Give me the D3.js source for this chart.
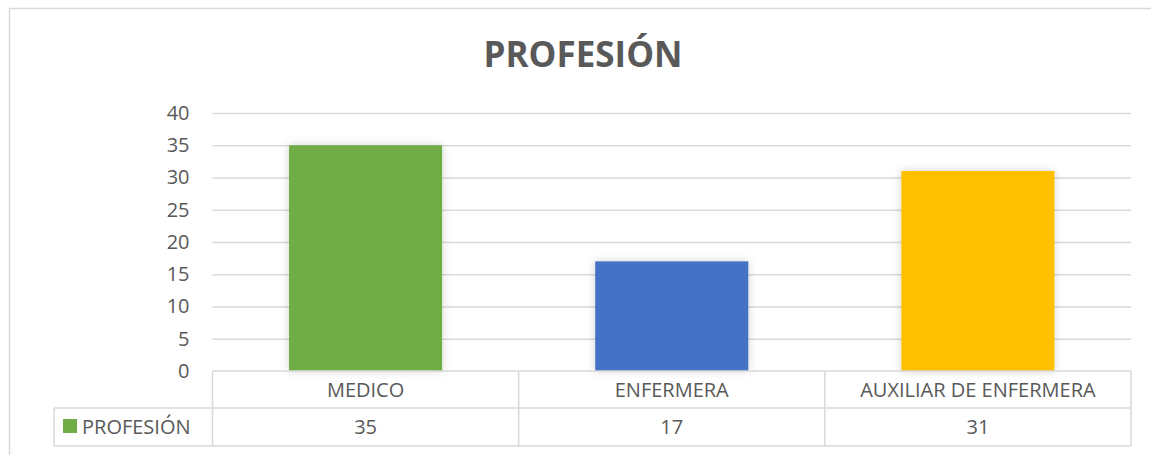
<!DOCTYPE html>
<html>
<head>
<meta charset="utf-8">
<script src="https://cdnjs.cloudflare.com/ajax/libs/d3/7.8.5/d3.min.js"></script>
<style>
  html, body { margin: 0; padding: 0; background: #fff; }
  svg { display: block; }
  text { font-family: "Open Sans", "Noto Sans", sans-serif; fill: #595959; }
</style>
</head>
<body>
<svg id="chart" width="1151" height="455"></svg>
<script>
const title = "PROFESIÓN";
const seriesName = "PROFESIÓN";
const categories = ["MEDICO", "ENFERMERA", "AUXILIAR DE ENFERMERA"];
const values = [35, 17, 31];
const colors = ["#70AD47", "#4472C4", "#FFC000"];
const yTicks = [0, 5, 10, 15, 20, 25, 30, 35, 40];

const svg = d3.select("#chart");
const W = 1151, H = 455;
const grid = "#d9d9d9";

// chart area border (left and top visible)
svg.append("path")
  .attr("d", `M9.5,${H} L9.5,8.5 L${W},8.5`)
  .attr("fill", "none").attr("stroke", grid).attr("stroke-width", 1.5);

const plot = { left: 212.5, right: 1131, top: 113, bottom: 371 };

const x = d3.scaleBand().domain(categories).range([plot.left, plot.right]).paddingInner(0.5).paddingOuter(0.25);
const xCol = d3.scaleBand().domain(categories).range([plot.left, plot.right]);
const y = d3.scaleLinear().domain([0, 40]).range([plot.bottom, plot.top]);

// title
svg.append("text")
  .attr("x", 583).attr("y", 67)
  .attr("text-anchor", "middle")
  .attr("font-size", 35).attr("font-weight", "bold")
  .text(title);

// gridlines + y axis
const yAxis = d3.axisLeft(y).tickValues(yTicks).tickSize(-(plot.right - plot.left)).tickPadding(23);
const gy = svg.append("g").attr("transform", `translate(${plot.left},0)`).call(yAxis);
gy.select(".domain").remove();
gy.selectAll(".tick line").attr("stroke", grid).attr("stroke-width", 1.3)
  .attr("display", d => d === 0 ? "none" : null);
gy.selectAll(".tick text").attr("font-size", 20).attr("fill", "#595959")
  .style("font-family", '"Open Sans", sans-serif');

// shadow filter
const defs = svg.append("defs");
const f = defs.append("filter").attr("id", "shadow").attr("x", "-20%").attr("y", "-20%").attr("width", "140%").attr("height", "140%");
f.append("feDropShadow").attr("dx", 0).attr("dy", 0).attr("stdDeviation", 4)
  .attr("flood-color", "#000").attr("flood-opacity", 0.18);

// bars
svg.append("g").selectAll("rect").data(categories).join("rect")
  .attr("x", d => x(d))
  .attr("width", x.bandwidth())
  .attr("y", (d, i) => y(values[i]))
  .attr("height", (d, i) => y(0) - y(values[i]))
  .attr("fill", (d, i) => colors[i])
  .attr("filter", "url(#shadow)");

// data table
const rowTop = 371, rowMid = 408, rowBot = 446, legendLeft = 54;
const tbl = svg.append("g").attr("stroke", grid).attr("stroke-width", 1.5).attr("fill", "none");
tbl.append("line").attr("x1", plot.left).attr("x2", plot.right).attr("y1", rowTop).attr("y2", rowTop);
tbl.append("line").attr("x1", legendLeft).attr("x2", plot.right).attr("y1", rowMid).attr("y2", rowMid);
tbl.append("line").attr("x1", legendLeft).attr("x2", plot.right).attr("y1", rowBot).attr("y2", rowBot);
tbl.append("line").attr("x1", legendLeft).attr("x2", legendLeft).attr("y1", rowMid).attr("y2", rowBot);
const colEdges = categories.map(c => xCol(c)).concat([plot.right]);
tbl.selectAll(".v").data(colEdges).join("line")
  .attr("x1", d => d).attr("x2", d => d).attr("y1", rowTop).attr("y2", rowBot);

// category labels
svg.append("g").selectAll("text").data(categories).join("text")
  .attr("x", d => xCol(d) + xCol.bandwidth() / 2)
  .attr("y", (rowTop + rowMid) / 2)
  .attr("dy", "0.35em")
  .attr("text-anchor", "middle").attr("font-size", 20)
  .text(d => d);

// value labels
svg.append("g").selectAll("text").data(categories).join("text")
  .attr("x", d => xCol(d) + xCol.bandwidth() / 2)
  .attr("y", (rowMid + rowBot) / 2)
  .attr("dy", "0.35em")
  .attr("text-anchor", "middle").attr("font-size", 20)
  .text((d, i) => values[i]);

// legend key in table
svg.append("rect").attr("x", 63).attr("y", 419).attr("width", 14).attr("height", 14).attr("fill", colors[0]);
svg.append("text").attr("x", 82).attr("y", (rowMid + rowBot) / 2).attr("dy", "0.35em")
  .attr("font-size", 20).text(seriesName);
</script>
</body>
</html>
